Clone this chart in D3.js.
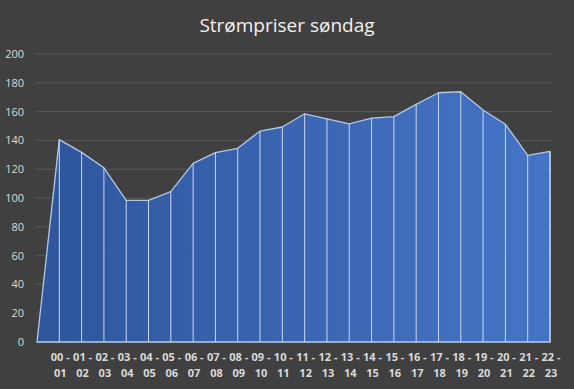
<!DOCTYPE html>
<html>
<head>
<meta charset="utf-8">
<script src="https://cdn.jsdelivr.net/npm/d3@7.9.0/dist/d3.min.js"></script>
<style>
  body { margin: 0; background: #404040; }
  svg { display: block; }
</style>
</head>
<body>
<svg id="chart"></svg>
<script>
// first slot is an unlabeled zero point, like the original sheet
const hours = ["", "00 - 01", "01 - 02", "02 - 03", "03 - 04", "04 - 05", "05 - 06", "06 - 07",
  "07 - 08", "08 - 09", "09 - 10", "10 - 11", "11 - 12", "12 - 13", "13 - 14", "14 - 15",
  "15 - 16", "16 - 17", "17 - 18", "18 - 19", "19 - 20", "20 - 21", "21 - 22", "22 - 23"];
const prices = [0, 140.5, 131.7, 121, 98.4, 98.4, 104.4, 124, 131.5, 134.5, 146.5, 149.3, 158.5,
  155, 151.4, 155.5, 156.5, 165, 173.1, 173.8, 161.1, 151.2, 129.6, 132.4];
const yTicks = [0, 20, 40, 60, 80, 100, 120, 140, 160, 180, 200];

const svgWidth = 574, svgHeight = 389;
const margin = { top: 54, right: 22, bottom: 47, left: 37 };
const width = svgWidth - margin.left - margin.right;
const height = svgHeight - margin.top - margin.bottom;

const svg = d3.select("#chart").attr("width", svgWidth).attr("height", svgHeight);

svg.append("rect").attr("width", svgWidth).attr("height", svgHeight).attr("fill", "#404040");

const data = hours.map((h, i) => ({ hour: h, price: prices[i] }));

const xScale = d3.scalePoint().domain(d3.range(hours.length)).range([0, 513]);
const yScale = d3.scaleLinear().domain([0, 200]).range([height, 0]);

const defs = svg.append("defs");
const grad = defs.append("linearGradient").attr("id", "areaFill")
  .attr("x1", "0%").attr("x2", "100%").attr("y1", "0%").attr("y2", "0%");
grad.append("stop").attr("offset", "0%").attr("stop-color", "#2f569c");
grad.append("stop").attr("offset", "100%").attr("stop-color", "#4574c7");

const g = svg.append("g").attr("transform", `translate(${margin.left}, ${margin.top})`);

// gridlines
g.selectAll("line.grid")
  .data(yTicks)
  .enter()
  .append("line")
  .attr("x1", -1)
  .attr("x2", 515)
  .attr("y1", d => yScale(d))
  .attr("y2", d => yScale(d))
  .attr("stroke", "#595959")
  .attr("stroke-width", 1);

const area = d3.area()
  .x((d, i) => xScale(i))
  .y0(yScale(0))
  .y1(d => yScale(d.price));

g.append("path")
  .datum(data)
  .attr("d", area)
  .attr("fill", "url(#areaFill)")
  .attr("stroke", "#b4c7e7")
  .attr("stroke-width", 1.3)
  .attr("stroke-linejoin", "round");

// drop lines
g.selectAll("line.drop")
  .data(data.slice(1))
  .enter()
  .append("line")
  .attr("x1", (d, i) => xScale(i + 1))
  .attr("x2", (d, i) => xScale(i + 1))
  .attr("y1", d => yScale(d.price))
  .attr("y2", yScale(0))
  .attr("stroke", "#c9d6ee")
  .attr("stroke-width", 1);

// y axis labels
g.selectAll("text.ylab")
  .data(yTicks)
  .enter()
  .append("text")
  .attr("x", -13)
  .attr("y", d => yScale(d) + 4)
  .attr("text-anchor", "end")
  .style("font-family", "'Open Sans', sans-serif")
  .style("font-size", "11px")
  .attr("fill", "#d9d9d9")
  .text(d => d);

// x axis labels, split over two lines
const xl = g.selectAll("text.xlab")
  .data(data.slice(1))
  .enter()
  .append("text")
  .attr("text-anchor", "middle")
  .style("font-family", "'Open Sans', sans-serif")
  .style("font-size", "11px")
  .style("font-weight", "bold")
  .attr("fill", "#d9d9d9");

xl.append("tspan")
  .attr("x", (d, i) => xScale(i + 1) + 1)
  .attr("y", height + 19)
  .text(d => d.hour.split(" - ")[0] + " -");

xl.append("tspan")
  .attr("x", (d, i) => xScale(i + 1) + 1)
  .attr("y", height + 35)
  .text(d => d.hour.split(" - ")[1]);

svg.append("text")
  .attr("x", 287)
  .attr("y", 32)
  .attr("text-anchor", "middle")
  .style("font-family", "'Open Sans', sans-serif")
  .style("font-size", "19px")
  .attr("fill", "#f2f2f2")
  .text("Strømpriser søndag");
</script>
</body>
</html>
